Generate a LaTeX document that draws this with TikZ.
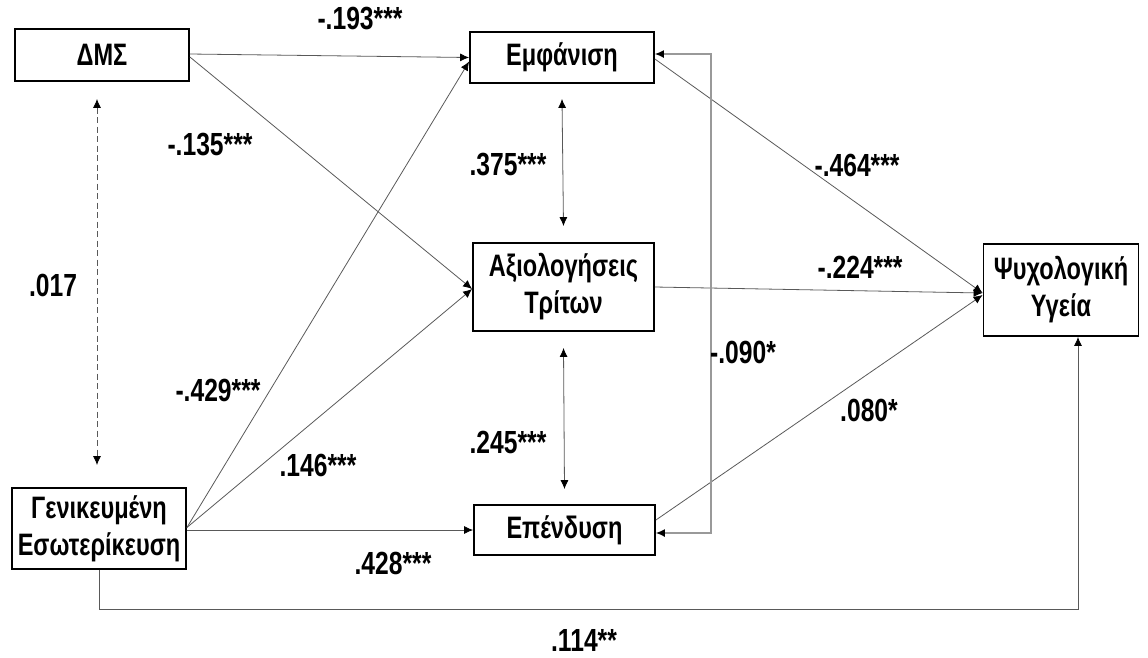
\documentclass[tikz,border=0pt]{standalone}
\usepackage{fontspec}
\setmainfont{Liberation Sans}
\newfontfamily\boxfont{Liberation Sans}[FakeStretch=0.76]
\newfontfamily\lblfont{Liberation Sans}[FakeStretch=0.77]
\usetikzlibrary{arrows.meta,calc}
\tikzset{
  box/.style={draw=black,line width=1.8pt,minimum width=#1,inner sep=0pt,align=center,font=\boxfont\fontsize{31}{37}\selectfont\bfseries},
  lbl/.style={font=\lblfont\fontsize{32}{34}\selectfont\bfseries,inner sep=0pt},
  path/.style={draw=black!65,line width=0.8pt,-{Latex[length=9pt,width=8pt,color=black]}},
  dpath/.style={draw=black!65,line width=0.8pt,{Latex[length=9pt,width=8pt,color=black]}-{Latex[length=9pt,width=8pt,color=black]}},
}
\begin{document}
\begin{tikzpicture}[x=1pt,y=-1pt]
\useasboundingbox (0,0) rectangle (1148,657);
% boxes
\node[box=174pt,minimum height=52pt] (dms) at (102,55) {ΔΜΣ};
\node[box=184pt,minimum height=51pt] (emf) at (562,57.5) {Εμφάνιση};
\node[box=181pt,minimum height=88pt] (axi) at (563.5,287) {Αξιολογήσεις\\Τρίτων};
\node[box=174pt,minimum height=81pt] (gen) at (99,528.5) {Γενικευμένη\\Εσωτερίκευση};
\node[box=181pt,minimum height=50pt] (epe) at (564.5,530) {Επένδυση};
\node[box=155pt,minimum height=92pt] (psy) at (1061,290) {Ψυχολογική\\Υγεία};
% coordinates
\coordinate (emfA) at ($(emf.west)+(0,0)$);
\coordinate (emfB) at ($(emf.west)+(0,4)$);
\coordinate (axiW) at ($(axi.west)+(0,2)$);
\coordinate (psyW) at ($(psy.west)+(0,3)$);
\coordinate (fbE) at ($(emf.east)+(56,-3.5)$);
\coordinate (fbP) at ($(epe.east)+(55,3)$);
\coordinate (bot) at ($(gen.south)+(0,39)$);
\coordinate (psyS) at ($(psy.south)+(17,0)$);
\coordinate (botR) at (bot -| psyS);
% paths from DMS
\draw[path] ($(dms.east)+(0,-1)$) -- (emfA);
\draw[path] ($(dms.east)+(0,2)$) -- (axiW);
% paths from Gen
\draw[path] ($(gen.east)+(0,-1)$) -- (emfB);
\draw[path] ($(gen.east)+(0,-1)$) -- (axiW);
\draw[path] ($(gen.east)+(0,1.5)$) -- (epe.west);
% to psy
\draw[path] ($(emf.east)+(0,1.5)$) -- (psyW);
\draw[path] (axi.east) -- (psyW);
\draw[path] ($(epe.east)+(0,-10)$) -- ($(psyW)+(0,2)$);
% covariances
\draw[dpath] ($(emf.south)+(0,15)$) -- ($(axi.north)+(0,-16)$);
\draw[dpath] ($(axi.south)+(0,16)$) -- ($(epe.north)+(0,-15)$);
\draw[dpath,dash pattern=on 6pt off 3.5pt] ($(dms.south)+(-5,17)$) -- ($(gen.north)+(-2,-22)$);
\draw[dpath,draw=black!40,line width=1.2pt] ($(emf.east)+(0,-3.5)$) -- (fbE) -- (fbP) -- ($(epe.east)+(0,3)$);
% bottom
\draw[path] (gen.south) -- (bot) -- (botR) -- (psyS);
% labels
\node[lbl] (l1) at (360,19) {-.193***};
\node[lbl] (l2) at (210,145) {-.135***};
\node[lbl] (l3) at (508,165) {.375***};
\node[lbl] (l4) at (53,285) {.017};
\node[lbl] (l5) at (218,390) {-.429***};
\node[lbl] (l6) at (318,465) {.146***};
\node[lbl] (l7) at (508,442) {.245***};
\node[lbl] (l8) at (393,563) {.428***};
\node[lbl] (l9) at (857,165) {-.464***};
\node[lbl] (l10) at (860,267) {-.224***};
\node[lbl] (l11) at (743,352) {-.090*};
\node[lbl] (l12) at (869,410) {.080*};
\node[lbl] (l13) at (584,640) {.114**};
\end{tikzpicture}
\end{document}
